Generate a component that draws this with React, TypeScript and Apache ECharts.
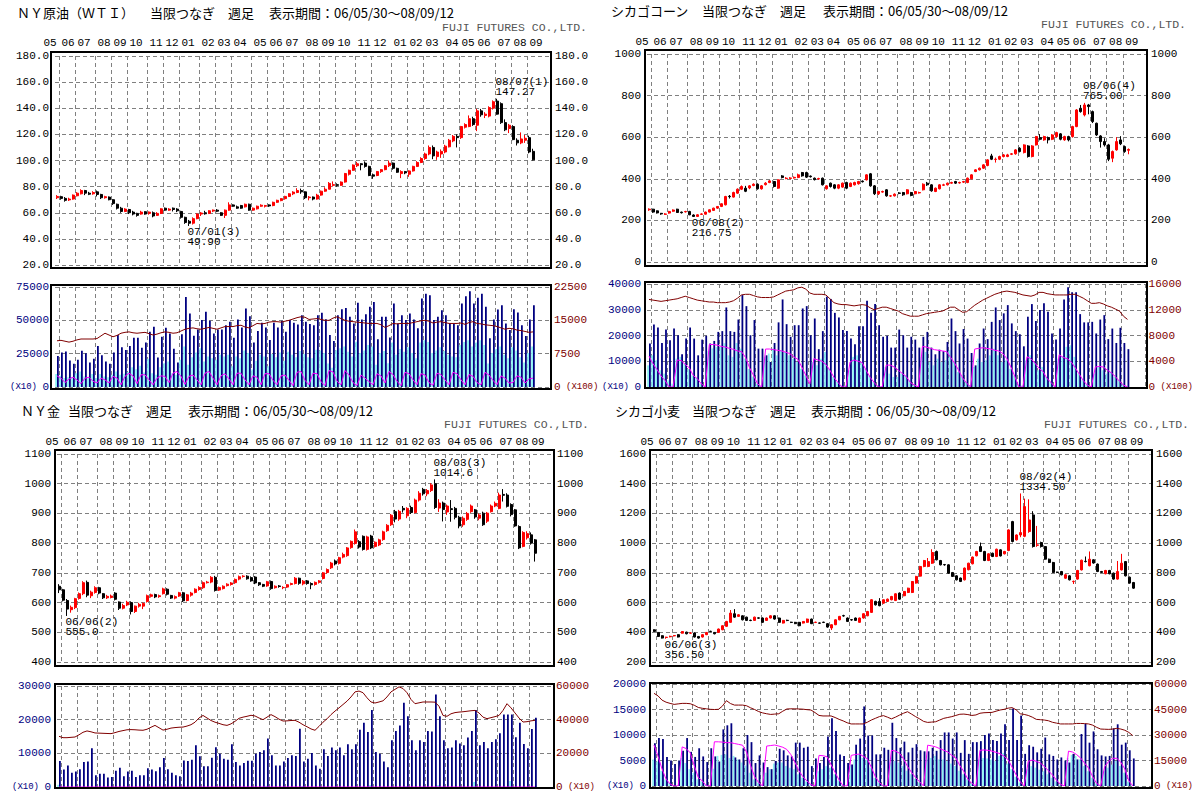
import React, { useEffect, useRef } from "react";
import * as echarts from "echarts";

// ---------- shared axis data ----------
const SLOTS = 124;
const CATEGORIES = Array.from({ length: SLOTS }, (_, i) => "w" + i);
const MONTH_START = [0, 1, 5, 10, 14, 18, 23, 27, 31, 36, 40, 44, 49, 53, 57, 62, 66, 70, 75, 79, 84, 88, 92, 97, 101, 105, 110, 114, 118];
const MONTH_LABELS = ["05", "06", "07", "08", "09", "10", "11", "12", "01", "02", "03", "04", "05", "06", "07", "08", "09", "10", "11", "12", "01", "02", "03", "04", "05", "06", "07", "08", "09"];

// ---------- NY crude oil ----------
// [open, close, low, high]
const OIL_CANDLES = [
  [71.5, 72.5, 70.5, 73.5], [72.3, 71.0, 70.0, 73.0], [71.0, 69.5, 68.5, 72.0], [69.8, 70.5, 69.0, 71.5], [70.5, 73.5, 70.0, 74.0],
  [73.0, 75.0, 72.5, 75.8], [74.5, 77.0, 74.0, 78.0], [77.0, 75.0, 73.5, 77.5], [75.0, 74.2, 73.5, 76.0], [74.5, 75.5, 73.8, 76.5],
  [76.0, 74.0, 72.5, 77.0], [74.0, 71.5, 70.5, 74.5], [71.5, 72.3, 70.8, 73.0], [72.0, 70.0, 69.5, 72.5], [70.0, 67.0, 66.0, 70.5],
  [66.5, 63.5, 62.5, 67.0], [63.5, 61.0, 60.0, 64.5], [61.0, 62.8, 60.5, 63.5], [62.5, 60.0, 59.0, 63.0], [60.5, 59.0, 58.0, 61.5],
  [59.5, 58.0, 57.0, 60.0], [59.0, 60.5, 58.5, 61.5], [60.8, 59.0, 58.5, 61.2], [59.5, 60.5, 58.5, 61.0], [60.0, 57.5, 56.5, 61.0],
  [58.0, 59.5, 57.5, 60.5], [59.5, 63.0, 59.0, 63.5], [63.5, 62.0, 61.5, 64.0], [62.0, 62.8, 61.5, 63.5], [63.5, 62.5, 61.0, 64.0],
  [62.8, 61.5, 60.5, 63.5], [61.0, 56.5, 55.5, 61.5], [56.5, 52.5, 51.5, 57.0], [53.5, 52.0, 49.9, 54.5], [52.0, 55.5, 51.0, 56.5],
  [55.5, 59.0, 55.0, 59.5], [59.0, 59.8, 57.5, 60.5], [60.0, 59.2, 58.5, 61.5], [59.5, 61.5, 59.0, 62.0], [61.3, 62.0, 60.5, 62.5],
  [62.0, 61.2, 60.5, 62.8], [60.0, 58.0, 57.5, 60.5], [58.0, 62.0, 56.0, 62.5], [62.0, 66.0, 61.5, 68.0], [66.0, 65.0, 64.5, 66.5],
  [64.5, 63.5, 63.0, 65.5], [65.5, 63.5, 63.0, 66.0], [64.5, 66.5, 64.0, 67.0], [66.5, 62.0, 61.5, 67.0], [62.0, 63.5, 61.5, 64.0],
  [63.0, 65.0, 62.5, 65.5], [65.0, 65.8, 64.5, 66.5], [65.0, 65.5, 64.0, 66.0], [66.0, 65.2, 64.5, 66.5], [65.5, 68.0, 65.0, 68.5],
  [68.0, 69.5, 67.5, 70.0], [69.3, 70.8, 68.8, 71.2], [70.8, 72.5, 70.0, 73.0], [72.5, 74.5, 72.0, 75.0], [74.5, 75.8, 73.5, 76.5],
  [75.5, 77.0, 75.0, 78.8], [77.0, 76.0, 74.5, 78.5], [76.0, 71.5, 70.5, 76.5], [71.5, 72.0, 69.5, 72.8], [72.0, 70.5, 69.5, 72.5],
  [70.5, 73.5, 70.0, 74.5], [73.5, 76.5, 73.0, 77.0], [76.5, 78.0, 76.0, 79.5], [78.0, 82.5, 78.0, 83.5], [81.0, 81.5, 80.0, 84.0],
  [81.5, 81.0, 80.0, 82.5], [81.0, 83.5, 80.5, 84.0], [83.5, 90.0, 83.0, 90.5], [89.5, 92.5, 88.5, 93.0], [92.5, 96.5, 92.0, 97.0],
  [96.0, 97.5, 95.0, 99.0], [97.5, 96.8, 92.5, 98.0], [98.0, 95.5, 94.5, 99.3], [95.5, 88.5, 88.0, 96.0], [89.0, 88.0, 86.0, 90.0],
  [88.5, 91.5, 88.0, 92.0], [91.5, 93.0, 90.5, 93.5], [93.0, 96.0, 92.5, 96.5], [96.0, 98.0, 95.0, 100.0], [98.0, 94.0, 93.0, 98.5],
  [94.0, 91.0, 90.5, 94.5], [90.0, 91.5, 86.5, 92.5], [91.5, 90.5, 89.5, 92.0], [89.5, 92.0, 87.5, 92.5], [92.0, 95.5, 91.5, 96.0],
  [95.5, 98.5, 95.0, 99.5], [98.5, 101.5, 98.0, 102.5], [101.5, 105.0, 100.5, 106.0], [105.0, 110.0, 104.0, 111.5], [110.0, 103.5, 101.0, 111.5],
  [103.0, 106.5, 100.5, 107.5], [105.0, 107.0, 102.0, 108.5], [106.5, 111.0, 105.5, 112.0], [110.5, 115.5, 110.0, 116.5], [115.0, 118.5, 114.0, 119.5],
  [118.5, 117.5, 110.0, 120.0], [117.5, 126.0, 116.5, 126.5], [125.5, 127.5, 124.5, 128.5], [126.0, 132.0, 125.5, 134.5], [132.0, 127.5, 126.5, 133.5],
  [127.0, 138.0, 122.5, 139.5], [138.0, 135.0, 133.5, 139.5], [134.5, 135.5, 132.5, 137.0], [134.0, 140.5, 133.0, 141.5], [140.0, 145.0, 139.0, 146.0],
  [145.5, 135.5, 135.0, 147.27], [143.5, 129.0, 128.0, 144.5], [129.0, 123.5, 122.5, 131.5], [124.5, 127.0, 121.0, 128.0], [126.0, 116.0, 115.5, 127.0],
  [115.5, 113.5, 111.5, 117.0], [113.5, 116.5, 112.5, 121.5], [115.5, 117.0, 113.5, 119.5], [117.5, 106.5, 105.5, 119.0], [107.0, 100.5, 100.0, 109.0],
];
const OIL_VOLUME = [
  23300, 25800, 26600, 19900, 17400, 20400, 27100, 25300, 18400, 21100,
  30800, 23800, 19100, 17400, 25800, 39000, 29800, 27800, 30800, 37000,
  37000, 29500, 33300, 41500, 45200, 22100, 37700, 44400, 40200, 28600,
  18400, 39500, 67500, 55100, 38500, 43200, 50200, 56400, 49700, 40200,
  43200, 43200, 46400, 48900, 37000, 50700, 44700, 58800, 53100, 33300,
  42000, 48200, 44700, 35300, 48200, 44700, 49700, 41500, 50200, 48200,
  46900, 53900, 48900, 47200, 46400, 53900, 55600, 50900, 39000, 34500,
  53900, 58300, 59300, 52600, 47700, 63100, 50700, 54600, 60100, 63800,
  35800, 52600, 52600, 37200, 62600, 47700, 53900, 50200, 55100, 50700,
  44000, 66300, 70000, 68800, 50200, 52600, 57600, 53900, 47700, 47200,
  46400, 62600, 68000, 71800, 62600, 67000, 70000, 60100, 36500, 50700,
  58100, 61300, 47700, 42700, 58300, 55900, 46400, 38200, 50700, 61300,
];
const OIL_FRONT = [
  9700, 8400, 6700, 7400, 7400, 10400, 11700, 7900, 7400, 9700,
  6700, 9700, 7900, 7400, 9200, 11700, 9200, 9900, 11200, 14900,
  13400, 15900, 10900, 21100, 10400, 9200, 14900, 17900, 19100, 10400,
  9200, 20400, 30300, 16600, 22300, 25800, 29000, 19100, 22800, 21600,
  20400, 24100, 22800, 24100, 15600, 22800, 21600, 27300, 25500, 13200,
  19600, 24100, 22800, 15600, 24800, 22300, 25800, 19600, 26500, 24100,
  22300, 27000, 24800, 22300, 21600, 28000, 27300, 25500, 17600, 14400,
  27500, 29000, 30300, 26500, 22800, 34000, 25500, 27300, 31500, 30300,
  16600, 25500, 27000, 17900, 33300, 24100, 28500, 26500, 29800, 25500,
  21600, 33300, 35000, 33800, 25500, 27300, 29800, 27000, 24100, 22800,
  22300, 31500, 33800, 35000, 30300, 33300, 35000, 31500, 17600, 25500,
  28500, 30300, 24100, 21600, 29800, 27300, 22300, 18400, 25500, 30300,
];
const OIL_OI = [
  10400, 10500, 10300, 10100, 10300, 10600, 10800, 10800, 10800, 10800,
  10900, 11500, 12100, 11700, 11300, 11600, 12100, 12300, 12400, 12200,
  12100, 12200, 12300, 12000, 11700, 11900, 12200, 12400, 12300, 12100,
  12200, 12600, 13000, 13200, 13300, 13100, 13000, 13200, 13400, 13200,
  13000, 13300, 13600, 13600, 13600, 13800, 13900, 13500, 13300, 13800,
  14300, 14200, 14300, 14600, 14700, 14700, 14600, 14800, 15000, 15300,
  15600, 15800, 15700, 15200, 15300, 15400, 15200, 15000, 15000, 15500,
  15800, 15400, 15000, 14800, 14700, 14600, 14500, 14400, 14300, 14300,
  14300, 14000, 13400, 13800, 14300, 14200, 14300, 14300, 14300, 14500,
  14700, 14900, 15000, 14800, 14400, 14600, 14700, 14500, 14300, 14300,
  14300, 14400, 14100, 14500, 14700, 14300, 14200, 14000, 13900, 13800,
  13600, 13300, 13000, 13200, 13100, 12800, 12700, 12500, 12300, 12400,
];
const OIL_FRONT_OI = [
  2500, 2000, 1000, 1800, 2200, 1600, 750, 2000, 2200, 1300,
  900, 2000, 1600, 900, 2400, 2000, 500, 2400, 3100, 2500,
  750, 2750, 2750, 1600, 500, 2000, 2500, 2400, 1000, 3100,
  3500, 2400, 600, 2400, 2700, 1600, 500, 3100, 3500, 2000,
  500, 2500, 3000, 1800, 500, 3100, 3100, 1600, 500, 2500,
  2200, 500, 3000, 3000, 1500, 500, 2500, 2700, 1500, 300,
  3300, 3500, 1500, 500, 3100, 3000, 1200, 300, 3700, 3400,
  1300, 500, 3700, 2700, 1000, 300, 2700, 2000, 1200, 500,
  3000, 2500, 900, 3500, 2800, 1300, 300, 3300, 3000, 1600,
  500, 3000, 2700, 1000, 400, 3100, 2800, 1600, 500, 3300,
  3000, 1600, 500, 2800, 2400, 1000, 500, 3300, 2700, 1500,
  500, 2500, 2000, 900, 1000, 2500, 2200, 900, 1800, 2000,
];

// ---------- Chicago corn ----------
const CORN_CANDLES = [
  [251, 254, 246, 258], [254, 240, 236, 256], [246, 236, 233, 248], [234, 231, 227, 236], [229, 231, 226, 235],
  [235, 243, 232, 246], [244, 250, 241, 253], [254, 238, 236, 256], [240, 237, 233, 242], [241, 243, 238, 246],
  [243, 227, 225, 246], [226, 219, 216.75, 229], [219, 227, 218, 230], [229, 231, 226, 234], [230, 240, 228, 242],
  [240, 251, 238, 253], [248, 259, 246, 261], [259, 267, 256, 269], [267, 280, 264, 282], [275, 315, 272, 318],
  [316, 314, 305, 322], [312, 334, 310, 338], [331, 350, 328, 354], [350, 363, 346, 368], [355, 340, 336, 366],
  [356, 366, 350, 370], [368, 374, 364, 378], [374, 352, 348, 378], [352, 366, 348, 370], [372, 379, 368, 384],
  [382, 390, 379, 394], [387, 363, 358, 390], [355, 395, 352, 398], [414, 406, 402, 418], [401, 403, 398, 408],
  [402, 404, 399, 408], [404, 407, 401, 411], [406, 419, 403, 425], [430, 414, 410, 433], [430, 408, 404, 434],
  [413, 410, 406, 416], [403, 396, 392, 406], [399, 401, 396, 405], [403, 371, 368, 406], [352, 366, 348, 369],
  [379, 363, 358, 382], [371, 355, 350, 374], [355, 371, 350, 374], [360, 379, 357, 382], [382, 355, 350, 386],
  [363, 379, 360, 382], [371, 382, 368, 386], [376, 387, 372, 390], [389, 386, 382, 392], [395, 419, 392, 422],
  [424, 366, 362, 428], [366, 328, 322, 370], [328, 339, 322, 342], [336, 339, 333, 343], [347, 318, 314, 350],
  [317, 318, 313, 322], [318, 326, 315, 330], [332, 330, 326, 336], [334, 323, 318, 337], [328, 347, 325, 350],
  [334, 320, 316, 337], [328, 339, 325, 342], [332, 334, 329, 338], [347, 374, 344, 378], [379, 371, 366, 385],
  [371, 342, 338, 374], [339, 355, 336, 358], [352, 371, 349, 374], [369, 371, 366, 376], [371, 379, 368, 382],
  [379, 382, 376, 386], [387, 379, 375, 390], [380, 382, 377, 386], [384, 387, 380, 390], [382, 403, 379, 406],
  [400, 419, 397, 422], [435, 443, 432, 446], [443, 451, 440, 454], [451, 467, 448, 470], [464, 491, 460, 494],
  [510, 494, 490, 520], [493, 494, 478, 502], [494, 507, 490, 511], [507, 515, 503, 519], [507, 515, 504, 520],
  [518, 520, 514, 524], [520, 539, 516, 543], [547, 531, 527, 552], [526, 563, 522, 566], [558, 507, 502, 562],
  [507, 558, 503, 562], [563, 603, 560, 606], [598, 590, 585, 615], [587, 603, 583, 607], [598, 587, 570, 603],
  [590, 611, 586, 615], [603, 622, 598, 626], [616, 590, 585, 620], [587, 603, 583, 607], [603, 587, 580, 607],
  [603, 651, 598, 655], [651, 731, 648, 735], [739, 723, 718, 755], [707, 755, 700, 765], [755, 747, 710, 760],
  [723, 675, 668, 728], [667, 611, 606, 670], [606, 579, 550, 610], [579, 563, 555, 595], [563, 494, 485, 568],
  [499, 531, 480, 536], [539, 579, 535, 600], [587, 568, 562, 605], [555, 531, 525, 560], [537, 541, 518, 546],
];
const CORN_VOLUME = [
  16900, 24300, 23100, 17100, 22300, 18200, 22700, 20100, 12700, 18800,
  23100, 18800, 12300, 18400, 19900, 16900, 17900, 21400, 21700, 30900,
  21700, 21400, 26200, 35700, 31400, 20100, 26000, 14900, 14900, 12300,
  9700, 17100, 25100, 34000, 24400, 19500, 24000, 24000, 30500, 31400,
  20100, 26600, 14700, 21700, 35100, 34200, 28800, 27000, 22100, 21700,
  18800, 16600, 23600, 23600, 33500, 28800, 32200, 24000, 19500, 19900,
  15300, 15300, 22300, 20100, 15300, 19500, 18400, 15300, 19500, 21400,
  15300, 12700, 14500, 13900, 17500, 26600, 21700, 16900, 22500, 18800,
  13200, 8400, 16900, 22700, 18600, 25300, 30900, 26000, 28600, 31800,
  24700, 21700, 20500, 15800, 27300, 32200, 25600, 29900, 32500, 29200,
  20800, 18400, 22700, 34000, 38700, 36800, 36800, 28300, 25100, 25100,
  25300, 20800, 26200, 27900, 18600, 22700, 17100, 23000, 17100, 14700,
];
const CORN_FRONT = [
  8400, 12300, 10400, 6500, 5200, 2600, 1300, 11000, 11700, 9000,
  7000, 4500, 3500, 1300, 600, 14000, 15000, 15500, 15600, 17000,
  12300, 11700, 17100, 14900, 11000, 7000, 4000, 1300, 500, 11700,
  13000, 14900, 12300, 14300, 13600, 12300, 11000, 9700, 7100, 4500,
  1300, 9700, 8400, 11000, 13600, 7100, 3900, 1900, 600, 500,
  6500, 11700, 12300, 9700, 7100, 4500, 1900, 600, 400, 7800,
  5200, 3900, 3900, 5200, 4500, 2600, 900, 500, 11700, 13600,
  9700, 8400, 11000, 9700, 10400, 14300, 9700, 5800, 3900, 1900,
  600, 7800, 11000, 9700, 10400, 12300, 14900, 12300, 9700, 10400,
  7100, 4500, 900, 600, 10400, 12300, 9700, 6500, 7800, 3900,
  1900, 600, 11000, 11700, 15600, 16200, 11700, 5200, 2600, 900,
  500, 5200, 7800, 6500, 5200, 5800, 3900, 2600, 1300, 500,
];
const CORN_OI = [
  13600, 13500, 13400, 13300, 13400, 13500, 13600, 13700, 13900, 14100,
  13900, 13700, 13500, 13400, 13300, 13200, 13200, 13100, 13100, 13100,
  13200, 13400, 13800, 14300, 14400, 14400, 14200, 14000, 13900, 13900,
  13900, 14000, 14300, 14600, 14900, 15000, 15100, 15400, 15500, 15200,
  14600, 14400, 14400, 14400, 14300, 13700, 13100, 12900, 12800, 12800,
  12700, 12600, 12700, 12800, 12700, 12300, 12000, 12200, 12400, 12400,
  12200, 12000, 11800, 11400, 11200, 11000, 11000, 11000, 11200, 11400,
  11500, 11600, 11700, 11800, 12100, 12400, 12400, 12000, 11600, 11700,
  12200, 12700, 13100, 13500, 13800, 14100, 14400, 14600, 14800, 14900,
  14800, 14700, 14500, 14300, 14200, 14100, 14300, 14700, 14700, 14500,
  14400, 14300, 14300, 14300, 14300, 14400, 14400, 14100, 13800, 13400,
  13000, 13000, 13100, 12900, 12600, 12400, 12100, 11800, 11000, 10500,
];
const CORN_FRONT_OI = [
  4800, 3600, 2700, 1700, 1000, 0, 0, 4200, 4100, 3500,
  3000, 1800, 1300, 500, 0, 6600, 6600, 6500, 6300, 6200,
  6000, 5850, 5600, 5500, 4600, 3000, 1800, 500, 0, 5900,
  5900, 5800, 5700, 5600, 5400, 5200, 4700, 4300, 3100, 1800,
  500, 4400, 4200, 4000, 3500, 2600, 1500, 700, 0, 0,
  3900, 4200, 4000, 3800, 2600, 1500, 700, 0, 0, 3400,
  3400, 3100, 2600, 2100, 1600, 700, 300, 0, 6300, 6200,
  6000, 5800, 5700, 5600, 5500, 4600, 3700, 2600, 1400, 600,
  0, 5900, 6000, 6100, 6000, 5900, 5700, 5600, 5200, 4400,
  3100, 1600, 0, 0, 4700, 4400, 3700, 2900, 2400, 1300,
  700, 0, 5000, 4600, 4400, 3900, 3000, 2000, 1000, 300,
  0, 3100, 3200, 3100, 2600, 2200, 1600, 900, 300, 0,
];

// ---------- NY gold ----------
const GOLD_CANDLES = [
  [655, 643, 632, 662], [643, 608, 604, 646], [607, 578, 555, 612], [576, 584, 566, 590], [583, 613, 578, 616],
  [614, 630, 610, 634], [630, 667, 625, 672], [668, 625, 618, 674], [623, 635, 615, 640], [634, 650, 630, 655],
  [650, 632, 628, 653], [630, 616, 612, 632], [616, 621, 612, 626], [617, 622, 614, 627], [632, 611, 607, 635],
  [602, 581, 575, 604], [581, 590, 577, 596], [592, 601, 588, 606], [600, 570, 560, 604], [570, 588, 565, 590],
  [588, 594, 583, 599], [588, 597, 578, 600], [604, 623, 600, 627], [621, 626, 617, 630], [627, 619, 615, 630],
  [620, 623, 616, 627], [630, 646, 627, 650], [645, 628, 624, 648], [624, 615, 612, 626], [615, 620, 611, 624],
  [622, 633, 619, 636], [633, 606, 602, 636], [607, 626, 604, 629], [625, 632, 620, 636], [634, 645, 631, 648],
  [644, 651, 640, 655], [650, 667, 646, 671], [667, 669, 664, 673], [669, 685, 665, 689], [685, 641, 637, 690],
  [642, 651, 639, 654], [647, 655, 644, 658], [657, 662, 654, 665], [661, 666, 657, 669], [667, 678, 663, 681],
  [679, 687, 675, 691], [688, 689, 684, 692], [689, 680, 677, 692], [684, 673, 670, 688], [686, 666, 662, 689],
  [667, 660, 656, 669], [661, 655, 652, 663], [656, 670, 653, 673], [671, 647, 643, 674], [650, 655, 647, 658],
  [656, 654, 650, 659], [650, 651, 645, 655], [652, 660, 649, 662], [661, 664, 658, 667], [664, 682, 661, 686],
  [682, 665, 660, 684], [663, 672, 658, 676], [673, 664, 660, 676], [664, 660, 645, 668], [661, 668, 657, 671],
  [668, 673, 664, 676], [681, 700, 678, 703], [701, 711, 697, 715], [717, 733, 713, 737], [740, 730, 725, 745],
  [732, 751, 728, 754], [753, 762, 749, 768], [758, 784, 754, 787], [785, 806, 781, 809], [799, 838, 795, 846],
  [805, 787, 782, 810], [823, 779, 775, 826], [779, 821, 775, 825], [824, 784, 780, 828], [789, 803, 785, 806],
  [794, 811, 790, 815], [812, 838, 808, 842], [842, 860, 838, 864], [862, 894, 858, 898], [906, 881, 870, 912],
  [881, 907, 875, 912], [917, 912, 903, 925], [892, 917, 884, 921], [920, 903, 898, 926], [903, 945, 900, 950],
  [945, 968, 940, 975], [981, 966, 960, 986], [966, 977, 958, 982], [977, 996, 972, 1002], [1000, 920, 915, 1014.6],
  [918, 935, 905, 948], [935, 913, 873, 940], [905, 925, 895, 930], [916, 913, 872, 945], [917, 887, 880, 922],
  [887, 858, 850, 892], [862, 884, 855, 890], [880, 900, 875, 905], [906, 925, 902, 930], [912, 888, 882, 915],
  [884, 895, 877, 900], [901, 862, 858, 906], [874, 901, 868, 905], [906, 925, 903, 930], [925, 934, 921, 940],
  [917, 962, 914, 970], [964, 961, 940, 982], [962, 924, 920, 968], [930, 896, 890, 934], [912, 858, 855, 915],
  [856, 784, 780, 860], [789, 836, 786, 840], [818, 832, 812, 840], [828, 800, 795, 836], [811, 766, 738, 814],
];
const GOLD_VOLUME = [
  7700, 5200, 6400, 4200, 4600, 5300, 7400, 7600, 11500, 3500,
  3900, 3900, 2800, 3000, 4800, 5700, 3200, 4600, 4800, 3000,
  3500, 3500, 5600, 5200, 4700, 5900, 8600, 5300, 4200, 3500,
  3200, 7900, 7700, 8100, 12400, 9100, 6200, 6200, 8700, 11800,
  9900, 8400, 8100, 12700, 7400, 6400, 7100, 7800, 7800, 9900,
  10400, 10900, 14400, 9400, 6400, 6400, 7600, 8600, 9400, 9200,
  17300, 7600, 8400, 10100, 6400, 5400, 11200, 9200, 11700, 10900,
  11700, 9400, 12700, 11200, 12700, 17000, 19100, 16300, 22900, 10400,
  9900, 7600, 5900, 13900, 16600, 18300, 25000, 21000, 13900, 10900,
  13900, 13400, 16600, 16500, 27500, 21000, 13900, 11500, 11700, 13900,
  12900, 12400, 14700, 16600, 22900, 12400, 13400, 11500, 13400, 14200,
  16000, 21500, 21500, 21500, 14800, 19100, 12800, 11500, 17200, 20600,
];
const GOLD_FRONT = [
  700, 0, 0, 0, 0, 0, 0, 0, 0, 0,
  0, 0, 0, 0, 0, 0, 0, 0, 0, 0,
  0, 0, 0, 0, 0, 0, 0, 0, 0, 0,
  0, 0, 0, 0, 0, 0, 0, 0, 0, 0,
  0, 0, 0, 0, 0, 0, 0, 0, 0, 0,
  0, 0, 400, 0, 0, 0, 0, 0, 0, 0,
  0, 300, 0, 0, 0, 0, 0, 0, 0, 0,
  0, 0, 0, 0, 0, 0, 0, 0, 600, 0,
  0, 0, 0, 0, 0, 0, 0, 300, 0, 0,
  0, 0, 0, 0, 0, 600, 0, 0, 0, 0,
  0, 0, 0, 0, 1500, 0, 0, 0, 0, 0,
  0, 0, 0, 1800, 0, 0, 0, 0, 0, 0,
];
const GOLD_OI = [
  30100, 29300, 29300, 29500, 29700, 31000, 32500, 33300, 32800, 32100,
  32000, 31900, 31800, 31700, 32300, 33000, 33500, 34000, 34100, 34000,
  33800, 33700, 34300, 35500, 36600, 35200, 33800, 34300, 35000, 35300,
  35500, 35600, 36200, 37000, 38500, 41000, 42500, 41000, 39500, 38500,
  37800, 37000, 36600, 37500, 39000, 40800, 41500, 42000, 42600, 42200,
  41000, 40000, 41500, 43000, 41800, 40300, 39200, 39300, 39500, 39600,
  38500, 37000, 35800, 34500, 33700, 36000, 38500, 40500, 43000, 45100,
  47000, 49000, 51000, 53500, 56500, 57000, 56000, 53000, 50500, 49900,
  50500, 51200, 53500, 56500, 58000, 59500, 58500, 56000, 52000, 49500,
  50000, 50500, 50500, 50500, 50400, 48000, 42500, 42000, 43500, 44200,
  44500, 44700, 45000, 45300, 45500, 44000, 41500, 40600, 41200, 41800,
  42500, 45500, 49500, 47000, 44000, 41000, 38600, 38800, 39300, 39600,
];
const GOLD_FRONT_OI = [
  0, 0, 0, 0, 0, 0, 0, 0, 0, 0,
  0, 0, 0, 0, 0, 0, 0, 0, 0, 0,
  0, 0, 0, 0, 0, 0, 0, 0, 0, 0,
  0, 0, 0, 0, 0, 0, 0, 0, 0, 0,
  0, 0, 0, 0, 0, 0, 0, 0, 0, 0,
  0, 0, 0, 0, 0, 0, 0, 0, 0, 0,
  0, 0, 0, 0, 0, 0, 0, 0, 0, 0,
  0, 0, 0, 0, 0, 0, 0, 0, 0, 0,
  0, 0, 0, 0, 0, 0, 0, 0, 0, 0,
  0, 0, 0, 0, 0, 0, 0, 0, 0, 0,
  0, 0, 0, 0, 0, 0, 0, 0, 0, 0,
  0, 0, 0, 0, 0, 0, 0, 0, 0, 0,
];

// ---------- Chicago wheat ----------
const WHEAT_CANDLES = [
  [417, 406, 402, 420], [399, 372, 368, 402], [377, 361, 358, 380], [365, 367, 356.5, 370], [370, 373, 366, 377],
  [376, 378, 372, 381], [384, 368, 365, 387], [394, 405, 391, 408], [401, 390, 386, 404], [394, 396, 390, 399],
  [395, 368, 365, 398], [372, 361, 357, 375], [368, 384, 365, 387], [384, 399, 381, 402], [407, 405, 401, 410],
  [399, 390, 386, 402], [399, 422, 396, 425], [417, 444, 414, 447], [440, 473, 437, 477], [467, 529, 463, 550],
  [525, 502, 498, 556], [507, 518, 503, 522], [511, 484, 480, 514], [502, 480, 476, 505], [481, 479, 475, 485],
  [480, 502, 476, 505], [497, 495, 490, 500], [496, 467, 463, 500], [480, 496, 476, 499], [496, 511, 493, 515],
  [511, 489, 485, 514], [496, 467, 463, 499], [462, 480, 459, 483], [481, 479, 475, 485], [468, 466, 462, 471],
  [467, 458, 455, 470], [467, 444, 440, 470], [462, 473, 459, 476], [467, 489, 464, 492], [489, 458, 455, 492],
  [466, 468, 462, 471], [463, 461, 457, 466], [468, 466, 462, 471], [458, 435, 431, 462], [429, 451, 415, 454],
  [451, 484, 448, 487], [484, 507, 481, 510], [512, 510, 505, 518], [496, 473, 469, 500], [485, 483, 478, 489],
  [496, 480, 476, 499], [467, 496, 464, 499], [496, 525, 492, 528], [511, 540, 508, 544], [534, 619, 530, 623],
  [608, 585, 580, 612], [608, 579, 575, 630], [596, 619, 592, 622], [608, 623, 604, 627], [619, 641, 615, 645],
  [614, 659, 610, 663], [664, 623, 619, 668], [646, 675, 642, 678], [668, 697, 664, 700], [668, 742, 664, 745],
  [731, 776, 727, 780], [778, 843, 774, 847], [843, 883, 838, 887], [843, 876, 838, 900], [865, 937, 860, 959],
  [944, 888, 884, 950], [883, 854, 850, 887], [856, 854, 848, 860], [854, 798, 794, 858], [802, 776, 772, 806],
  [780, 753, 749, 784], [765, 742, 738, 768], [753, 832, 749, 836], [821, 865, 817, 868], [861, 906, 857, 910],
  [915, 944, 911, 948], [977, 944, 940, 1004], [944, 883, 879, 948], [883, 928, 879, 932], [932, 910, 906, 936],
  [910, 959, 906, 963], [955, 914, 910, 959], [928, 944, 924, 948], [950, 1089, 946, 1093], [1145, 1011, 1005, 1150],
  [1022, 1055, 1018, 1059], [1055, 1071, 1040, 1334.5], [1046, 1246, 1040, 1300], [1078, 1156, 1070, 1295], [1190, 977, 970, 1215],
  [986, 988, 975, 1116], [1004, 977, 970, 1010], [977, 892, 888, 981], [892, 870, 866, 896], [870, 803, 799, 874],
  [805, 803, 798, 808], [809, 787, 783, 813], [764, 787, 760, 791], [780, 753, 749, 784], [741, 743, 725, 748],
  [758, 816, 754, 820], [820, 885, 816, 889], [878, 876, 870, 910], [848, 892, 844, 944], [888, 866, 862, 892],
  [859, 809, 805, 863], [809, 803, 799, 813], [794, 816, 790, 820], [816, 794, 790, 820], [798, 758, 754, 802],
  [758, 809, 754, 880], [820, 865, 816, 928], [876, 780, 776, 880], [771, 731, 727, 775], [735, 697, 693, 739],
];
const WHEAT_VOLUME = [
  8400, 9400, 9200, 5700, 5000, 4300, 5000, 6900, 9400, 6700,
  5700, 7400, 5800, 4700, 7400, 5800, 4800, 11100, 11900, 12300,
  5600, 5200, 7400, 10000, 8600, 4500, 6000, 4600, 3700, 3300,
  4900, 7300, 7000, 6000, 5800, 8500, 8500, 7500, 7700, 3900,
  5400, 4500, 5700, 9700, 13300, 10800, 6200, 5900, 4500, 4200,
  8100, 9300, 15600, 9900, 9900, 6200, 6200, 7500, 7100, 12400,
  9400, 7500, 8700, 6600, 7500, 8200, 7000, 6800, 6800, 7500,
  6900, 9000, 10500, 10500, 9300, 10500, 6500, 9000, 6300, 8600,
  8600, 8800, 10000, 10300, 9000, 8800, 10300, 12100, 9000, 15200,
  9000, 13800, 6300, 8000, 7700, 6600, 7300, 9500, 6200, 5900,
  5200, 5600, 5000, 4600, 6300, 5200, 10200, 12200, 8500, 10700,
  7200, 6000, 5800, 5900, 11300, 12100, 8100, 8500, 7000, 5400,
];
const WHEAT_FRONT = [
  5200, 4800, 3000, 1300, 600, 200, 100, 5500, 4500, 3300,
  2600, 1300, 900, 200, 100, 3400, 5900, 6100, 6200, 5500,
  5900, 5200, 4600, 4000, 2600, 1300, 700, 200, 2600, 3300,
  4400, 4600, 4600, 3900, 3600, 3300, 2300, 1600, 900, 300,
  100, 2900, 3300, 3900, 3600, 2300, 1100, 200, 100, 4200,
  5200, 6200, 5500, 5200, 3600, 1600, 700, 200, 100, 4600,
  4900, 4600, 3900, 3000, 2300, 1400, 700, 100, 5200, 5500,
  5900, 5200, 5200, 4900, 4400, 3900, 3000, 2300, 1300, 500,
  100, 5200, 5500, 5400, 5200, 4900, 5900, 6500, 4400, 3300,
  1800, 700, 100, 3300, 3900, 3600, 3200, 2900, 2300, 1600,
  900, 300, 100, 5500, 6100, 5900, 5200, 3900, 2900, 1600,
  500, 100, 3000, 3600, 4200, 4900, 3900, 2600, 900, 100,
];
const WHEAT_OI = [
  54500, 53000, 50500, 49300, 48600, 48000, 48300, 48600, 48600, 48400,
  47500, 46200, 45700, 45400, 45100, 45000, 45100, 47000, 50200, 48500,
  47600, 47600, 47600, 47200, 46000, 45000, 43800, 43000, 42500, 42100,
  42300, 42500, 44000, 45300, 45400, 45400, 45300, 45200, 44900, 44700,
  43200, 41500, 41200, 41200, 41200, 40300, 39200, 38300, 37200, 36500,
  36500, 36500, 36500, 37500, 38800, 39800, 40800, 41400, 40500, 39500,
  40500, 41700, 42800, 43700, 42300, 40800, 39500, 38000, 37400, 37600,
  37800, 38800, 39800, 40300, 40800, 41500, 42200, 42300, 42000, 41500,
  41800, 42800, 43100, 43200, 43300, 44000, 44700, 45100, 45800, 46100,
  44800, 42500, 42100, 41500, 40500, 39200, 39000, 38800, 38400, 37500,
  37000, 36500, 36500, 36500, 36500, 36800, 36800, 36700, 36500, 35800,
  34500, 33500, 33400, 33300, 33500, 33900, 33500, 32800, 31500, 29600,
];
const WHEAT_FRONT_OI = [
  24100, 17500, 10000, 4000, 1200, 0, 0, 23000, 22000, 19500,
  12000, 5000, 3000, 0, 0, 26000, 26000, 25800, 25500, 25500,
  25000, 24500, 24000, 20000, 12000, 5500, 2000, 0, 23500, 23800,
  24100, 23500, 22800, 21500, 18500, 14000, 9000, 5500, 3000, 800,
  0, 18000, 17800, 17200, 12500, 8000, 3500, 0, 0, 18000,
  18500, 18800, 17500, 16000, 11000, 5500, 2000, 0, 0, 21000,
  20500, 19300, 16000, 11500, 8000, 5000, 2500, 0, 24000, 23600,
  23000, 22000, 21000, 20000, 18000, 16500, 12000, 8500, 4000, 1500,
  0, 21000, 21200, 21000, 20500, 19800, 19000, 17500, 15500, 11000,
  6500, 2500, 0, 14500, 15300, 14500, 13500, 11500, 9000, 6500,
  3500, 1000, 0, 20500, 20000, 18500, 16500, 13500, 10500, 5500,
  1500, 0, 11400, 14500, 16300, 16300, 14000, 10000, 3000, 0,
];

// ---------- panel descriptions ----------
const PERIOD = "表示期間：06/05/30～08/09/12";
const PANELS = [
  {
    titles: ["ＮＹ原油（ＷＴＩ）", "当限つなぎ　週足", PERIOD], titleX: [17, 150, 269], titleY: 12,
    fujiX: 587, fujiY: 27,
    box: [51, 52, 500, 216], grid: [55, 56, 496, 209], monthMargin: 8,
    volBox: [51, 285, 500, 104], volGrid: [55, 287, 496, 100],
    yMain: [20, 180, 20], decimals: 1, yVolL: [0, 75000, 25000], yVolR: [0, 22500, 7500], rUnit: "(X100)",
    candles: OIL_CANDLES, volume: OIL_VOLUME, front: OIL_FRONT, oi: OIL_OI, frontOi: OIL_FRONT_OI,
    ann: [{ idx: 110, val: 147.27, text: "08/07(1)\n147.27", up: true }, { idx: 33, val: 49.9, text: "07/01(3)\n49.90", up: false }],
  },
  {
    titles: ["シカゴコーン", "当限つなぎ　週足", PERIOD], titleX: [611, 702, 823], titleY: 10,
    fujiX: 1186, fujiY: 24,
    box: [645, 50, 502, 216], grid: [647, 54, 500, 208], monthMargin: 7,
    volBox: [645, 282, 502, 106], volGrid: [647, 284, 500, 103],
    yMain: [0, 1000, 200], decimals: 0, yVolL: [0, 40000, 10000], yVolR: [0, 16000, 4000], rUnit: "(X100)",
    candles: CORN_CANDLES, volume: CORN_VOLUME, front: CORN_FRONT, oi: CORN_OI, frontOi: CORN_FRONT_OI,
    ann: [{ idx: 108, val: 765, text: "08/06(4)\n765.00", up: true }, { idx: 11, val: 216.75, text: "06/08(2)\n216.75", up: false }],
  },
  {
    titles: ["ＮＹ金", "当限つなぎ　週足", PERIOD], titleX: [21, 68, 188], titleY: 410,
    fujiX: 589, fujiY: 424,
    box: [55, 450, 499, 216], grid: [57, 454, 496, 208], monthMargin: 7,
    volBox: [55, 684, 499, 104], volGrid: [57, 686, 496, 101],
    yMain: [400, 1100, 100], decimals: 0, yVolL: [0, 30000, 10000], yVolR: [0, 60000, 20000], rUnit: "(X10)",
    candles: GOLD_CANDLES, volume: GOLD_VOLUME, front: GOLD_FRONT, oi: GOLD_OI, frontOi: GOLD_FRONT_OI,
    ann: [{ idx: 94, val: 1014.6, text: "08/03(3)\n1014.6", up: true }, { idx: 2, val: 555, text: "06/06(2)\n555.0", up: false }],
  },
  {
    titles: ["シカゴ小麦", "当限つなぎ　週足", PERIOD], titleX: [615, 692, 811], titleY: 410,
    fujiX: 1189, fujiY: 424,
    box: [650, 450, 502, 216], grid: [652, 454, 500, 208], monthMargin: 7,
    volBox: [650, 683, 502, 105], volGrid: [652, 684, 500, 102],
    yMain: [200, 1600, 200], decimals: 0, yVolL: [0, 20000, 5000], yVolR: [0, 60000, 15000], rUnit: "(X10)",
    candles: WHEAT_CANDLES, volume: WHEAT_VOLUME, front: WHEAT_FRONT, oi: WHEAT_OI, frontOi: WHEAT_FRONT_OI,
    ann: [{ idx: 91, val: 1334.5, text: "08/02(4)\n1334.50", up: true }, { idx: 3, val: 356.5, text: "06/06(3)\n356.50", up: false }],
  },
];

const MONO = '"Liberation Mono", "DejaVu Sans Mono", monospace';
const JP = '"Noto Sans CJK JP", "Noto Sans CJK SC", sans-serif';
const DASH = { color: "#808080", width: 1, type: [4, 3] };
const NAVY = "#000080";
const DARKRED = "#800000";
const CYAN = "#8cf2f2";
const MAGENTA = "#ff00ff";

function buildOption() {
  const grid: any[] = [];
  const xAxis: any[] = [];
  const yAxis: any[] = [];
  const series: any[] = [];
  const elements: any[] = [];
  const monthSet = new Set(MONTH_START);

  PANELS.forEach((p) => {
    const gi = grid.length;
    grid.push({ left: p.grid[0], top: p.grid[1], width: p.grid[2], height: p.grid[3] });
    grid.push({ left: p.volGrid[0], top: p.volGrid[1], width: p.volGrid[2], height: p.volGrid[3] });

    const splitInterval = (i: number) => i > 0 && monthSet.has(i);
    xAxis.push({
      type: "category", gridIndex: gi, data: CATEGORIES, boundaryGap: true, position: "top",
      axisLine: { show: false }, axisTick: { show: false },
      axisLabel: {
        show: true, interval: (i: number) => monthSet.has(i), margin: p.monthMargin, align: "center",
        fontFamily: MONO, fontSize: 11, color: "#000",
        formatter: (_v: string, i: number) => {
          const m = MONTH_START.indexOf(i);
          if (m < 0) return "";
          return m === 0 ? "{f|" + MONTH_LABELS[m] + "}" : "{n|" + MONTH_LABELS[m] + "}";
        },
        rich: {
          f: { padding: [0, 14, 0, 0], fontFamily: MONO, fontSize: 11, color: "#000" },
          n: { padding: [0, 0, 0, 14], fontFamily: MONO, fontSize: 11, color: "#000" },
        },
      },
      splitLine: { show: true, interval: splitInterval, lineStyle: DASH },
    });
    xAxis.push({
      type: "category", gridIndex: gi + 1, data: CATEGORIES, boundaryGap: true,
      axisLine: { show: false }, axisTick: { show: false }, axisLabel: { show: false },
      splitLine: { show: true, interval: splitInterval, lineStyle: DASH },
    });

    const yi = yAxis.length;
    const mainFmt = (v: number) => (p.decimals ? v.toFixed(p.decimals) : String(v));
    const baseY = { type: "value", axisLine: { show: false }, axisTick: { show: false } };
    yAxis.push({
      ...baseY, gridIndex: gi, position: "left", min: p.yMain[0], max: p.yMain[1], interval: p.yMain[2],
      axisLabel: { formatter: mainFmt, margin: 6, fontFamily: MONO, fontSize: 11, color: "#000" },
      splitLine: { show: true, lineStyle: DASH },
    });
    yAxis.push({
      ...baseY, gridIndex: gi, position: "right", min: p.yMain[0], max: p.yMain[1], interval: p.yMain[2],
      axisLabel: { formatter: mainFmt, margin: 4, fontFamily: MONO, fontSize: 11, color: "#000" },
      splitLine: { show: false },
    });
    yAxis.push({
      ...baseY, gridIndex: gi + 1, position: "left", min: p.yVolL[0], max: p.yVolL[1], interval: p.yVolL[2],
      axisLabel: {
        formatter: (v: number) => (v === 0 ? "{u|(X10) }0" : String(v)), margin: 6, fontFamily: MONO, fontSize: 11, color: NAVY,
        rich: { u: { fontFamily: MONO, fontSize: 9, color: NAVY } },
      },
      splitLine: { show: true, lineStyle: DASH },
    });
    yAxis.push({
      ...baseY, gridIndex: gi + 1, position: "right", min: p.yVolR[0], max: p.yVolR[1], interval: p.yVolR[2],
      axisLabel: {
        formatter: (v: number) => (v === 0 ? "0{u| " + p.rUnit + "}" : String(v)), margin: 3, fontFamily: MONO, fontSize: 11, color: DARKRED,
        rich: { u: { fontFamily: MONO, fontSize: 9, color: DARKRED } },
      },
      splitLine: { show: false },
    });

    series.push({
      type: "candlestick", xAxisIndex: gi, yAxisIndex: yi, data: p.candles, barWidth: 2.5,
      itemStyle: { color: "#ff0000", color0: "#000000", borderColor: "#ff0000", borderColor0: "#000000", borderWidth: 1 },
      markPoint: {
        symbol: "circle", symbolSize: 1, itemStyle: { color: "rgba(0,0,0,0)" }, silent: true,
        label: { show: true, color: "#000", fontFamily: MONO, fontSize: 11, lineHeight: 10, align: "left", verticalAlign: "top" },
        data: p.ann.map((a) => ({
          coord: [a.idx, a.val],
          label: { formatter: a.text, position: a.up ? [-1, -21] : [-1, 2] },
        })),
      },
    });
    series.push({ type: "bar", xAxisIndex: gi + 1, yAxisIndex: yi + 2, data: p.front, barWidth: 1.8, barGap: "0%", itemStyle: { color: CYAN } });
    series.push({ type: "bar", xAxisIndex: gi + 1, yAxisIndex: yi + 2, data: p.volume, barWidth: 1.8, barGap: "0%", itemStyle: { color: NAVY } });
    series.push({ type: "line", xAxisIndex: gi + 1, yAxisIndex: yi + 3, data: p.oi, symbol: "none", lineStyle: { color: DARKRED, width: 1 } });
    series.push({ type: "line", xAxisIndex: gi + 1, yAxisIndex: yi + 3, data: p.frontOi, symbol: "none", lineStyle: { color: MAGENTA, width: 1 } });

    // frames
    elements.push({ type: "rect", z: 50, silent: true, shape: { x: p.box[0], y: p.box[1], width: p.box[2], height: p.box[3] }, style: { fill: "none", stroke: "#000", lineWidth: 2 } });
    elements.push({ type: "rect", z: 50, silent: true, shape: { x: p.volBox[0], y: p.volBox[1], width: p.volBox[2], height: p.volBox[3] }, style: { fill: "none", stroke: "#000", lineWidth: 2 } });
    // titles
    p.titles.forEach((t, k) => {
      elements.push({
        type: "text", z: 50, silent: true, x: p.titleX[k], y: p.titleY,
        style: { text: t, fontFamily: JP, fontSize: 13, fill: "#000", align: "left", verticalAlign: "middle", textAlign: "left", textVerticalAlign: "middle" },
      });
    });
    elements.push({
      type: "text", z: 50, silent: true, x: p.fujiX, y: p.fujiY,
      style: { text: "FUJI FUTURES CO.,LTD.", fontFamily: MONO, fontSize: 11.5, fill: "#555555", align: "right", verticalAlign: "middle", textAlign: "right", textVerticalAlign: "middle" },
    });
  });

  return {
    animation: false,
    backgroundColor: "#ffffff",
    textStyle: { fontFamily: MONO },
    grid, xAxis, yAxis, series,
    graphic: { elements },
  };
}

export default function App() {
  const ref = useRef<HTMLDivElement>(null);
  useEffect(() => {
    document.body.style.margin = "0";
    if (!ref.current) return;
    const chart = echarts.init(ref.current, null, { renderer: "svg" });
    chart.setOption(buildOption() as any);
    return () => chart.dispose();
  }, []);
  return <div ref={ref} style={{ width: 1196, height: 808, background: "#fff" }} />;
}
